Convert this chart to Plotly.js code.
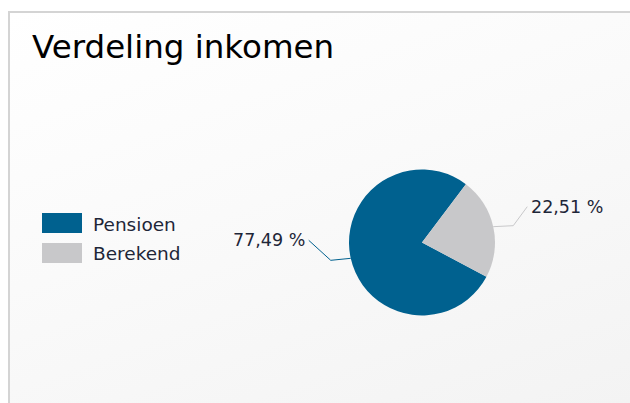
<!DOCTYPE html>
<html>
<head>
<meta charset="utf-8">
<script src="https://cdn.plot.ly/plotly-3.0.1.min.js"></script>
<style>
  html, body { margin:0; padding:0; background:#ffffff; width:630px; height:403px; overflow:hidden; }
  #panel { position:absolute; left:8px; top:11px; width:622px; height:392px;
    border-left:2px solid #d4d4d4; border-top:2px solid #d4d4d4;
    background: linear-gradient(160deg, #ffffff 0%, #fafafa 45%, #f3f3f3 100%); }
  #chart { position:absolute; left:0; top:0; width:630px; height:403px; }
</style>
</head>
<body>
<div id="panel"></div>
<div id="chart"></div>
<script>
const title = "Verdeling inkomen";
const labels = ["Pensioen", "Berekend"];
const values = [77.49, 22.51];
const colors = ["#00618f", "#c8c8ca"];

const W = 630, H = 403;
const cx = 422, cy = 242.5, R = 73;
const rotation = 118; // start of first slice, clockwise from 12 o'clock
const FONT = 'DejaVu Sans, sans-serif';
const TXT = '#1e2638';

const total = values.reduce((a, b) => a + b, 0);
const fmt = v => v.toFixed(2).replace('.', ',') + ' %';

const shapes = [], annotations = [];
let start = rotation;
values.forEach((v, i) => {
  const span = v / total * 360;
  const mid = (start + span / 2) * Math.PI / 180;
  start += span;
  const ex = cx + R * Math.sin(mid), ey = cy - R * Math.cos(mid);
  const right = Math.sin(mid) >= 0;
  const dir = right ? 1 : -1;
  const hx = ex + dir * 20, hy = ey + (right ? -1 : 2);
  const tx = hx + dir * (right ? 14 : 22), ty = ey + (right ? -20 : -18);
  const px = x => x / W, py = y => 1 - y / H;
  shapes.push({type: 'path', xref: 'paper', yref: 'paper',
    path: `M ${px(ex)} ${py(ey)} L ${px(hx)} ${py(hy)} L ${px(tx)} ${py(ty)}`,
    line: {color: colors[i], width: 1}});
  annotations.push({xref: 'paper', yref: 'paper', x: px(tx + dir * 2), y: py(ty),
    xanchor: right ? 'left' : 'right', yanchor: 'middle', showarrow: false,
    text: fmt(v), font: {family: FONT, size: 17.5, color: TXT}});
  // legend
  const lx = 42, ly = 213 + i * 30;
  shapes.push({type: 'rect', xref: 'paper', yref: 'paper',
    x0: lx / W, x1: (lx + 40) / W, y0: 1 - ly / H, y1: 1 - (ly + 20) / H,
    fillcolor: colors[i], line: {width: 0}});
  annotations.push({xref: 'paper', yref: 'paper', x: (lx + 49) / W, y: 1 - (ly + 11) / H,
    xanchor: 'left', yanchor: 'middle', showarrow: false, text: labels[i],
    font: {family: FONT, size: 18.5, color: TXT}});
});

const data = [{
  type: 'pie', labels: labels, values: values, sort: false, direction: 'clockwise',
  rotation: rotation, marker: {colors: colors, line: {width: 0}},
  textinfo: 'none', hoverinfo: 'label+percent', showlegend: false,
  domain: {x: [(cx - R) / W, (cx + R) / W], y: [1 - (cy + R) / H, 1 - (cy - R) / H]}
}];

const layout = {
  width: W, height: H, margin: {l: 0, r: 0, t: 0, b: 0},
  paper_bgcolor: 'rgba(0,0,0,0)', plot_bgcolor: 'rgba(0,0,0,0)',
  title: {text: title, x: 32 / W, xanchor: 'left', y: 1 - 47 / H, yanchor: 'middle',
    font: {family: FONT, size: 32.5, color: '#000000'}},
  shapes: shapes, annotations: annotations, showlegend: false
};

Plotly.newPlot('chart', data, layout, {displayModeBar: false, staticPlot: true});
</script>
</body>
</html>
